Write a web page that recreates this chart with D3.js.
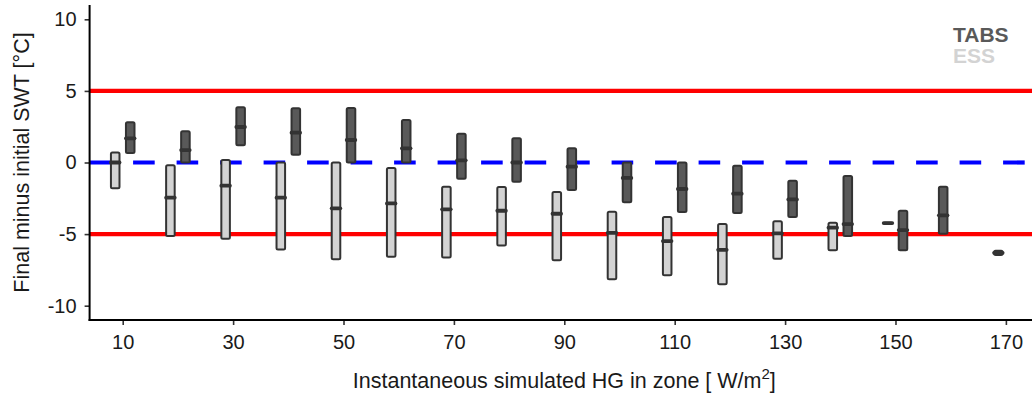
<!DOCTYPE html>
<html>
<head>
<meta charset="utf-8">
<script src="https://cdn.jsdelivr.net/npm/d3@7"></script>
<style>
  body { margin: 0; background: #fff; }
  svg { display: block; font-family: "Liberation Sans", Arial, sans-serif; }
</style>
</head>
<body>
<svg id="chart" width="1032" height="396"></svg>
<script>
// ---- data ----
const categories = [10, 20, 30, 40, 50, 60, 70, 80, 90, 100, 110, 120, 130, 140, 150, 160, 170];
const xTickLabels = [10, 30, 50, 70, 90, 110, 130, 150, 170];
const yTickLabels = [-10, -5, 0, 5, 10];
const seriesNames = ["TABS", "ESS"];

// ESS boxes: lower, median, upper (null = no data)
const essLow  = [-1.80, -5.14, -5.33, -6.07, -6.75, -6.59, -6.63, -5.79, -6.82, -8.15, -7.87, -8.50, -6.72, -6.12, -4.25, null, null];
const essMid  = [ 0.00, -2.46, -1.62, -2.46, -3.20, -2.86, -3.27, -3.37, -3.58, -4.91, -5.49, -6.10, -4.95, -4.55, -4.23, null, null];
const essHigh = [ 0.69, -0.20,  0.17,  0.00,  0.00, -0.38, -1.69, -1.71, -2.06, -3.44, -3.81, -4.30, -4.11, -4.21, -4.21, null, null];

// TABS boxes: lower, median, upper
const tabsLow  = [0.66, 0.00, 1.20, 0.55, 0.00, 0.00, -1.13, -1.34, -1.92, -2.78, -3.46, -3.53, -3.81, -5.14, -6.12, -4.98, -6.46];
const tabsMid  = [1.69, 0.87, 2.48, 2.08, 1.57, 0.99,  0.15,  0.00, -0.29, -1.08, -1.85, -2.18, -2.58, -4.30, -4.72, -3.69, -6.31];
const tabsHigh = [2.81, 2.18, 3.86, 3.79, 3.81, 2.97,  2.01,  1.69,  0.99,  0.00,  0.00, -0.22, -1.27, -0.94, -3.37, -1.69, -6.16];

const refLines = [5, -5];
const zeroLine = 0;

// ---- layout ----
const svg = d3.select("#chart");
const mLeft = 89.6, mRight = 1039, mTop = 5, mBottom = 320;

const x = d3.scalePoint().domain(categories).range([mLeft, mRight]).padding(0.6);
const y = d3.scaleLinear().domain([-11, 11]).range([mBottom, mTop]);
const color = d3.scaleOrdinal().domain(seriesNames).range(["#595959", "#d3d3d3"]);

// build box records; a lone box in a category takes the left dodge slot
const boxes = [];
categories.forEach((c, i) => {
  const present = [];
  if (essLow[i] !== null) present.push({series: "ESS", lo: essLow[i], mid: essMid[i], hi: essHigh[i]});
  if (tabsLow[i] !== null) present.push({series: "TABS", lo: tabsLow[i], mid: tabsMid[i], hi: tabsHigh[i]});
  present.forEach((b, k) => { b.cat = c; b.slot = k; boxes.push(b); });
});

const dodge = x.step() * 0.136;
const boxW = x.step() * 0.155;

// reference lines (under boxes)
svg.append("g").selectAll("line").data(refLines).join("line")
  .attr("x1", mLeft).attr("x2", 1040)
  .attr("y1", d => y(d)).attr("y2", d => y(d))
  .attr("stroke", "#ff0000").attr("stroke-width", 4.2);

svg.append("line")
  .attr("x1", mLeft).attr("x2", 1040)
  .attr("y1", y(zeroLine)).attr("y2", y(zeroLine))
  .attr("stroke", "#0000ff").attr("stroke-width", 4.2)
  .attr("stroke-dasharray", "21.6,21.9");

// boxes
const g = svg.append("g");
boxes.forEach(b => {
  const cx = x(b.cat) + (b.slot === 0 ? -dodge : dodge);
  const y0 = y(b.hi), y1 = y(b.lo);
  g.append("rect")
    .attr("x", cx - boxW / 2).attr("width", boxW)
    .attr("y", y0).attr("height", Math.max(0.5, y1 - y0))
    .attr("rx", 1.5)
    .attr("fill", color(b.series))
    .attr("stroke", "#333333").attr("stroke-width", 2);
  g.append("line")
    .attr("x1", cx - boxW / 2).attr("x2", cx + boxW / 2)
    .attr("y1", y(b.mid)).attr("y2", y(b.mid))
    .attr("stroke", "#333333").attr("stroke-width", 3.8)
    .attr("stroke-linecap", "round");
});

// axes
const yAxis = svg.append("g").attr("transform", `translate(${mLeft},0)`)
  .call(d3.axisLeft(y).tickValues(yTickLabels).tickSize(5).tickPadding(8).tickFormat(d => String(d)));
const xAxis = svg.append("g").attr("transform", `translate(0,${mBottom})`)
  .call(d3.axisBottom(x).tickValues(xTickLabels).tickSize(5).tickPadding(10).tickFormat(d => String(d)));

[yAxis, xAxis].forEach(a => {
  a.select(".domain").remove();
  a.selectAll(".tick line").attr("stroke", "#333").attr("stroke-width", 1.6);
  a.selectAll(".tick text").attr("fill", "#1a1a1a").attr("font-size", 20)
    .attr("font-family", "Liberation Sans, Arial, sans-serif");
});

svg.append("line").attr("x1", mLeft).attr("x2", mLeft).attr("y1", mTop).attr("y2", mBottom + 1)
  .attr("stroke", "#000").attr("stroke-width", 2);
svg.append("line").attr("x1", mLeft - 1).attr("x2", 1040).attr("y1", mBottom).attr("y2", mBottom)
  .attr("stroke", "#000").attr("stroke-width", 2);

// axis titles
const xt = svg.append("text")
  .attr("x", (mLeft + mRight) / 2).attr("y", 388)
  .attr("text-anchor", "middle").attr("font-size", 21.5).attr("fill", "#1a1a1a");
xt.append("tspan").text("Instantaneous simulated HG in zone [ W/m");
xt.append("tspan").attr("font-size", 15).attr("dy", -9).text("2");
xt.append("tspan").attr("dy", 9).text("]");

svg.append("text")
  .attr("transform", `translate(29,${(mTop + mBottom) / 2}) rotate(-90)`)
  .attr("text-anchor", "middle").attr("font-size", 21.5).attr("fill", "#1a1a1a")
  .text("Final minus initial SWT [°C]");

// legend
const leg = svg.append("g");
seriesNames.forEach((s, i) => {
  leg.append("text")
    .attr("x", 953).attr("y", 42 + i * 21)
    .attr("font-size", 21).attr("font-weight", "bold")
    .attr("fill", color(s)).text(s);
});
</script>
</body>
</html>
